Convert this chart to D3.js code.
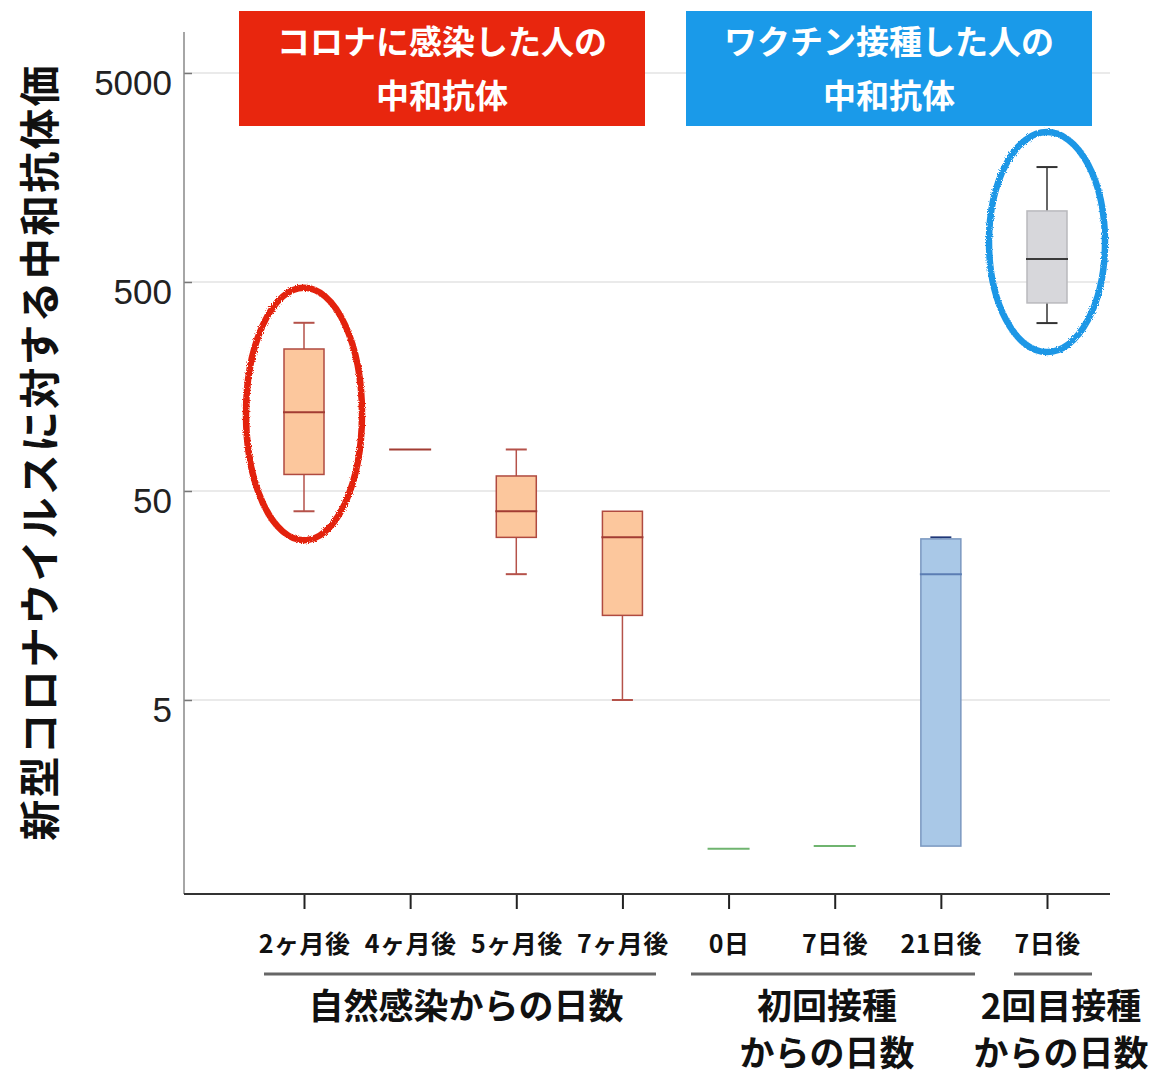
<!DOCTYPE html>
<html><head><meta charset="utf-8">
<script src="https://cdn.jsdelivr.net/npm/d3@7"></script>
<style>body{margin:0;background:#fff}</style>
</head><body><svg id="c" width="1157" height="1077"></svg>
<script>
// ---- data ----
const categories = ["2ヶ月後","4ヶ月後","5ヶ月後","7ヶ月後","0日","7日後","21日後","7日後"];
const whiskerLow  = [40, 79, 20, 5, 0.97, 1.0, 1.0, 318];
const q1Values    = [60, 79, 30, 12.7, 0.97, 1.0, 1.0, 397];
const medianVals  = [119, 79, 40, 30, 0.97, 1.0, 20, 645];
const q3Values    = [239, 79, 59, 40, 0.97, 1.0, 29.5, 1094];
const whiskerHigh = [319, 79, 79, 40, 0.97, 1.0, 30, 1774];
const yTicks = [5, 50, 500, 5000];
const yTitle = "新型コロナウイルスに対する中和抗体価";
const headerRed = ["コロナに感染した人の", "中和抗体"];
const headerBlue = ["ワクチン接種した人の", "中和抗体"];
const groupNames = [["自然感染からの日数"], ["初回接種","からの日数"], ["2回目接種","からの日数"]];
const groupMembers = [[0,1,2,3],[4,5,6],[7]];
const highlighted = [0, 7];

// ---- styles ----
const orange = {fill:"#fcc79d", stroke:"#b04a40", median:"#a23c33", whisker:"#b5524a", cap:"#b5524a"};
const green  = {fill:"none", stroke:"#6fb46f", median:"#6fb46f", whisker:"#6fb46f", cap:"#6fb46f"};
const blue   = {fill:"#a9c8e7", stroke:"#7b98c0", median:"#5b7db3", whisker:"#7b98c0", cap:"#1f3777"};
const gray   = {fill:"#d7d7db", stroke:"#b9b9bd", median:"#3a3a3a", whisker:"#333", cap:"#333"};
const styles = [orange, orange, orange, orange, green, green, blue, gray];
const ellipseColors = ["#e3210e", "#1f97e6"];
const cjk = "'Noto Sans CJK JP','Noto Sans',sans-serif";

const svg = d3.select("#c");
const plotLeft = 184, plotRight = 1110, plotTop = 32, plotBottom = 894;
const x = d3.scalePoint().domain(d3.range(categories.length)).range([304, 1047]);
const y = d3.scaleLog().domain([5, 5000]).range([700, 73]);
const boxW = 40, capW = 21;

// gridlines
svg.append("g").selectAll("line").data(yTicks).join("line")
  .attr("x1", plotLeft).attr("x2", plotRight)
  .attr("y1", d => y(d)).attr("y2", d => y(d))
  .attr("stroke", "#e3e3e3").attr("stroke-width", 1.5);

// y axis
const gy = svg.append("g").attr("transform", `translate(${plotLeft},0)`)
  .call(d3.axisLeft(y).tickValues(yTicks).tickSizeInner(-8).tickSizeOuter(0).tickPadding(12).tickFormat(d3.format("d")));
gy.select(".domain").remove();
gy.selectAll(".tick line").attr("stroke", "#777").attr("stroke-width", 1.5);
gy.selectAll(".tick text").attr("font-family", "'Liberation Sans',Arial,sans-serif")
  .attr("font-size", 35).attr("fill", "#222").attr("dy", "0.6em");
svg.append("line").attr("x1", plotLeft).attr("x2", plotLeft).attr("y1", plotTop).attr("y2", plotBottom)
  .attr("stroke", "#888").attr("stroke-width", 1.5);

// x axis
const gx = svg.append("g").attr("transform", `translate(0,${plotBottom})`)
  .call(d3.axisBottom(x).tickSizeInner(15).tickSizeOuter(0).tickPadding(0).tickFormat(i => categories[i]));
gx.select(".domain").remove();
gx.selectAll(".tick line").attr("stroke", "#222").attr("stroke-width", 2);
gx.selectAll(".tick text").attr("y", 50).attr("dy", "0.36em")
  .attr("font-family", cjk).attr("font-weight", 700).attr("font-size", 25)
  .attr("letter-spacing", 0.5).attr("fill", "#111");
svg.append("line").attr("x1", plotLeft).attr("x2", plotRight).attr("y1", plotBottom).attr("y2", plotBottom)
  .attr("stroke", "#333").attr("stroke-width", 2);

// boxes
const idx = d3.range(categories.length);
const boxes = svg.append("g").selectAll("g").data(idx).join("g");
// whiskers
boxes.filter(i => whiskerHigh[i] > q3Values[i]).append("line")
  .attr("x1", i => x(i)).attr("x2", i => x(i))
  .attr("y1", i => y(q3Values[i])).attr("y2", i => y(whiskerHigh[i]))
  .attr("stroke", i => styles[i].whisker).attr("stroke-width", 1.5);
boxes.filter(i => whiskerLow[i] < q1Values[i]).append("line")
  .attr("x1", i => x(i)).attr("x2", i => x(i))
  .attr("y1", i => y(q1Values[i])).attr("y2", i => y(whiskerLow[i]))
  .attr("stroke", i => styles[i].whisker).attr("stroke-width", 1.5);
// caps
boxes.filter(i => whiskerHigh[i] > q3Values[i]).append("line")
  .attr("x1", i => x(i) - capW / 2).attr("x2", i => x(i) + capW / 2)
  .attr("y1", i => y(whiskerHigh[i])).attr("y2", i => y(whiskerHigh[i]))
  .attr("stroke", i => styles[i].cap).attr("stroke-width", 2);
boxes.filter(i => whiskerLow[i] < q1Values[i]).append("line")
  .attr("x1", i => x(i) - capW / 2).attr("x2", i => x(i) + capW / 2)
  .attr("y1", i => y(whiskerLow[i])).attr("y2", i => y(whiskerLow[i]))
  .attr("stroke", i => styles[i].cap).attr("stroke-width", 2);
// box
boxes.filter(i => q3Values[i] > q1Values[i]).append("rect")
  .attr("x", i => x(i) - boxW / 2).attr("width", boxW)
  .attr("y", i => y(q3Values[i])).attr("height", i => y(q1Values[i]) - y(q3Values[i]))
  .attr("fill", i => styles[i].fill).attr("stroke", i => styles[i].stroke).attr("stroke-width", 1.5);
// median
boxes.append("line")
  .attr("x1", i => x(i) - boxW / 2 - 1).attr("x2", i => x(i) + boxW / 2 + 1)
  .attr("y1", i => y(medianVals[i])).attr("y2", i => y(medianVals[i]))
  .attr("stroke", i => styles[i].median).attr("stroke-width", 2);

// rough crayon filter
const defs = svg.append("defs");
const f = defs.append("filter").attr("id", "rough").attr("x", "-20%").attr("y", "-20%").attr("width", "140%").attr("height", "140%");
f.append("feTurbulence").attr("type", "fractalNoise").attr("baseFrequency", 0.8).attr("numOctaves", 2).attr("result", "n");
f.append("feDisplacementMap").attr("in", "SourceGraphic").attr("in2", "n").attr("scale", 3.5);

// highlight ellipses
svg.append("g").selectAll("ellipse").data(highlighted).join("ellipse")
  .attr("cx", i => x(i))
  .attr("cy", i => (y(whiskerLow[i]) + y(whiskerHigh[i])) / 2 - 3)
  .attr("rx", 58)
  .attr("ry", i => (y(whiskerLow[i]) - y(whiskerHigh[i])) / 2 + 32)
  .attr("fill", "none")
  .attr("stroke", (d, k) => ellipseColors[k]).attr("stroke-width", 6.5)
  .attr("filter", "url(#rough)");

// header boxes
const headers = [
  {lines: headerRed, color: "#e8260e", x0: 239, x1: 645},
  {lines: headerBlue, color: "#1a9ae9", x0: 686, x1: 1092}
];
const hg = svg.append("g").selectAll("g").data(headers).join("g");
hg.append("rect").attr("x", d => d.x0).attr("width", d => d.x1 - d.x0)
  .attr("y", 11).attr("height", 115).attr("fill", d => d.color);
hg.each(function(d) {
  d3.select(this).selectAll("text").data(d.lines).join("text")
    .attr("x", (d.x0 + d.x1) / 2).attr("y", (t, k) => 42 + k * 54)
    .attr("dy", "0.36em").attr("text-anchor", "middle")
    .attr("font-family", cjk).attr("font-weight", 700).attr("font-size", 33)
    .attr("fill", "#fff").text(t => t);
});

// y title
svg.append("text").attr("transform", "translate(40,452) rotate(-90)")
  .attr("text-anchor", "middle").attr("dy", "0.36em")
  .attr("font-family", cjk).attr("font-weight", 700).attr("font-size", 41)
  .attr("letter-spacing", 2.2).attr("fill", "#111").text(yTitle);

// group lines and labels
const groupExtents = [[264, 656], [691, 975], [1014, 1092]];
const gg = svg.append("g").selectAll("g").data(groupMembers).join("g");
gg.append("line")
  .attr("x1", (m, k) => groupExtents[k][0]).attr("x2", (m, k) => groupExtents[k][1])
  .attr("y1", 974).attr("y2", 974).attr("stroke", "#666").attr("stroke-width", 3);
gg.each(function(m, k) {
  const cx = k === 0 ? 466 : (k === 1 ? 827 : 1061);
  d3.select(this).selectAll("text").data(groupNames[k]).join("text")
    .attr("x", cx).attr("y", (t, j) => 1006 + j * 47).attr("dy", "0.36em")
    .attr("text-anchor", "middle").attr("font-family", cjk).attr("font-weight", 700)
    .attr("font-size", 35).attr("fill", "#111").text(t => t);
});
</script></body></html>
